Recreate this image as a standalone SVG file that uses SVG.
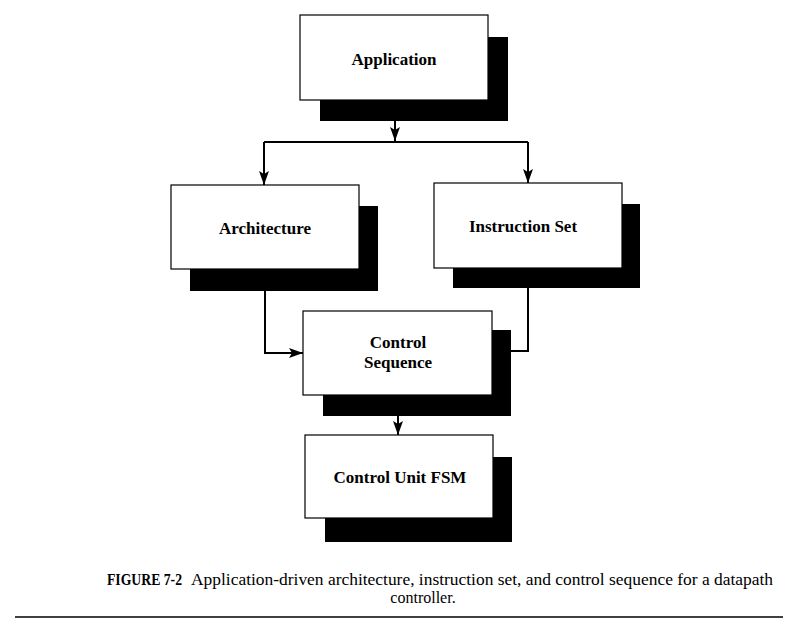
<svg xmlns="http://www.w3.org/2000/svg" width="803" height="629" viewBox="0 0 803 629">
<style>
.box{fill:#fff;stroke:#000;stroke-width:1.2}
.shadow{fill:#000}
.lbl{font-family:"Liberation Serif","DejaVu Serif",serif;font-size:17px;font-weight:bold;fill:#000;text-anchor:middle}
.cap{font-family:"Liberation Serif","DejaVu Serif",serif;font-size:16px;fill:#000}
.wire{fill:none;stroke:#000;stroke-width:2}
</style>
<defs>
<marker id="ah" markerUnits="userSpaceOnUse" markerWidth="14" markerHeight="10" refX="14" refY="5" orient="auto" viewBox="0 0 14 10">
<path d="M0,0 L14,5 L0,10 L3,5 Z" fill="#000"/>
</marker>
</defs>
<rect x="0" y="0" width="803" height="629" fill="#fff"/>
<g id="connectors">
<path class="wire" d="M395,121 V141" marker-end="url(#ah)"/>
<path class="wire" d="M264,142 H528"/>
<path class="wire" d="M264,142 V185" marker-end="url(#ah)"/>
<path class="wire" d="M528,142 V183" marker-end="url(#ah)"/>
<path class="wire" d="M265,291 V353 H303" marker-end="url(#ah)"/>
<path class="wire" d="M528,288 V351 H511"/>
<path class="wire" d="M398,416 V435" marker-end="url(#ah)"/>
</g>
<g id="application">
<rect class="shadow" x="320" y="37" width="188" height="84"/>
<rect class="box" x="300" y="15" width="188" height="85"/>
<text class="lbl" x="394" y="65">Application</text>
</g>
<g id="architecture">
<rect class="shadow" x="190" y="206" width="188" height="85"/>
<rect class="box" x="171" y="185" width="188" height="84"/>
<text class="lbl" x="265" y="234">Architecture</text>
</g>
<g id="instruction-set">
<rect class="shadow" x="453" y="204" width="187" height="84"/>
<rect class="box" x="434" y="183" width="188" height="85"/>
<text class="lbl" x="523" y="232">Instruction Set</text>
</g>
<g id="control-sequence">
<rect class="shadow" x="323" y="330" width="188" height="86"/>
<rect class="box" x="303" y="311" width="189" height="84"/>
<text class="lbl" x="398" y="348">Control</text>
<text class="lbl" x="398" y="368">Sequence</text>
</g>
<g id="control-unit-fsm">
<rect class="shadow" x="325" y="457" width="187" height="85"/>
<rect class="box" x="305" y="435" width="188" height="83"/>
<text class="lbl" x="400" y="483">Control Unit FSM</text>
</g>
<g id="caption">
<text class="cap" x="107" y="585" font-weight="bold" textLength="75" lengthAdjust="spacingAndGlyphs">FIGURE 7-2</text>
<text class="cap" x="191" y="585" textLength="582" lengthAdjust="spacingAndGlyphs">Application-driven architecture, instruction set, and control sequence for a datapath</text>
<text class="cap" x="423" y="603" text-anchor="middle">controller.</text>
<line x1="15" y1="617" x2="783" y2="617" stroke="#000" stroke-width="1.5"/>
</g>
</svg>
